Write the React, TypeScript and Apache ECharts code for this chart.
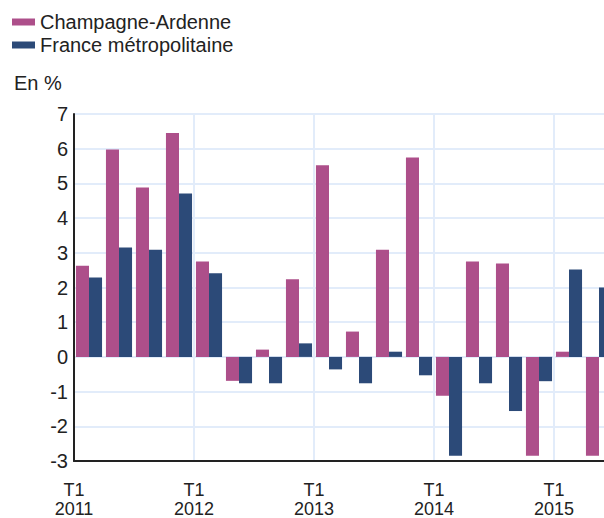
import React, { useEffect, useRef } from "react";
import * as echarts from "echarts";

const quarters = [
  "T1 2011", "T2 2011", "T3 2011", "T4 2011",
  "T1 2012", "T2 2012", "T3 2012", "T4 2012",
  "T1 2013", "T2 2013", "T3 2013", "T4 2013",
  "T1 2014", "T2 2014", "T3 2014", "T4 2014",
  "T1 2015", "T2 2015",
];
const champagne = [2.63, 5.98, 4.88, 6.45, 2.75, -0.69, 0.21, 2.24, 5.52, 0.73, 3.09, 5.75, -1.12, 2.75, 2.69, -2.85, 0.15, -2.85];
const france = [2.29, 3.15, 3.09, 4.71, 2.41, -0.76, -0.76, 0.39, -0.36, -0.76, 0.15, -0.53, -2.85, -0.76, -1.56, -0.7, 2.52, 2.0];
const yearLabels = ["2011", "2012", "2013", "2014", "2015"];
const seriesNames = ["Champagne-Ardenne", "France métropolitaine"];
const colors = ["#ad4f8a", "#2c4a78"];
const FONT = "'Liberation Sans', Arial, sans-serif";

export default function App() {
  const ref = useRef<HTMLDivElement>(null);
  useEffect(() => {
    if (!ref.current) return;
    const chart = echarts.init(ref.current, undefined, { renderer: "svg" });
    chart.setOption({
      animation: false,
      textStyle: { fontFamily: FONT, color: "#222" },
      title: {
        text: "En %",
        left: 14,
        top: 73,
        padding: 0,
        textStyle: { fontSize: 20, fontWeight: "normal", color: "#222", fontFamily: FONT },
      },
      legend: {
        orient: "vertical",
        left: 12,
        top: 12,
        padding: 0,
        itemGap: 3,
        itemWidth: 23,
        itemHeight: 7,
        icon: "rect",
        textStyle: { fontSize: 20, color: "#222", fontFamily: FONT },
        data: seriesNames,
      },
      grid: { left: 74, top: 114, width: 540, height: 347, outerBoundsMode: "none", containLabel: false },
      xAxis: [
        {
          type: "category",
          data: quarters,
          show: false,
        },
        {
          type: "value",
          min: 0,
          max: quarters.length,
          interval: 4,
          position: "bottom",
          axisLine: { show: true, onZero: false, lineStyle: { color: "#222", width: 2 } },
          axisTick: { show: false },
          splitLine: { show: true, lineStyle: { color: "#e2ecfa", width: 2 } },
          axisLabel: {
            margin: 19,
            fontSize: 18,
            lineHeight: 19,
            color: "#222",
            fontFamily: FONT,
            formatter: (v: number) => {
              if (v % 4 !== 0) return "";
              const y = yearLabels[v / 4];
              return y ? "T1\n" + y : "";
            },
          },
        },
      ],
      yAxis: {
        type: "value",
        min: -3,
        max: 7,
        interval: 1,
        axisLine: { show: true, onZero: false, lineStyle: { color: "#222", width: 2 } },
        axisTick: { show: false },
        splitLine: { show: true, lineStyle: { color: "#e2ecfa", width: 2 } },
        axisLabel: { margin: 6, fontSize: 20, color: "#222", fontFamily: FONT },
      },
      series: [
        {
          name: seriesNames[0],
          type: "bar",
          xAxisIndex: 0,
          data: champagne,
          itemStyle: { color: colors[0] },
          barGap: "0%",
          barCategoryGap: "13%",
        },
        {
          name: seriesNames[1],
          type: "bar",
          xAxisIndex: 0,
          data: france,
          itemStyle: { color: colors[1] },
          barGap: "0%",
          barCategoryGap: "13%",
        },
      ],
    });
    return () => chart.dispose();
  }, []);
  return (
    <div
      ref={ref}
      style={{ position: "absolute", left: 0, top: 0, width: 604, height: 518 }}
    />
  );
}
